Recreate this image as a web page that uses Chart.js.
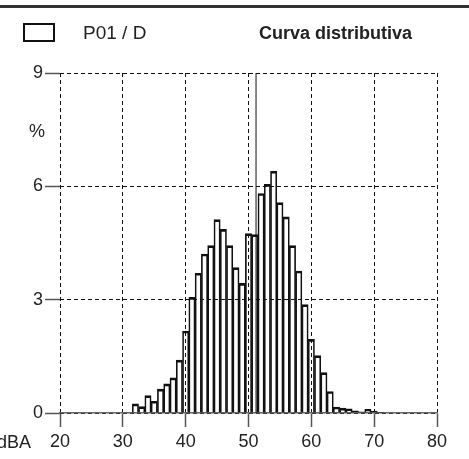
<!DOCTYPE html>
<html>
<head>
<meta charset="utf-8">
<script src="https://cdn.jsdelivr.net/npm/chart.js@4.4.0/dist/chart.umd.min.js"></script>
<style>
html,body{margin:0;padding:0;background:#fff;}
#wrap{width:469px;height:459px;position:relative;}
</style>
</head>
<body>
<div id="wrap"><canvas id="c" width="469" height="459"></canvas></div>
<script>
// Data (dBA bins, percent)
const levels = [32,33,34,35,36,37,38,39,40,41,42,43,44,45,46,47,48,49,50,51,52,53,54,55,56,57,58,59,60,61,62,63,64,65,66,67,68,69,70,71];
const percents = [0.24,0.17,0.46,0.31,0.63,0.77,0.93,1.40,2.17,3.06,3.70,4.21,4.43,5.12,4.86,4.43,3.85,3.43,4.75,4.72,5.81,6.05,6.40,5.57,5.19,4.43,3.76,2.87,1.95,1.52,1.07,0.57,0.16,0.13,0.11,0.06,0.03,0.10,0.05,0.02];
const markerLevel = 51.2;
const xTicks = [20,30,40,50,60,70,80];
const yTicks = [0,3,6,9];
const seriesName = 'P01 / D';
const chartTitle = 'Curva distributiva';
const xUnit = 'dBA';
const yUnit = '%';

const FONT = "'Liberation Sans', Arial, sans-serif";

const decor = {
  id: 'decor',
  afterDraw(chart) {
    const ctx = chart.ctx;
    ctx.save();
    // top rule
    ctx.fillStyle = '#333';
    ctx.fillRect(0, 5, 469, 3);
    // legend box
    ctx.strokeStyle = '#111';
    ctx.lineWidth = 2;
    ctx.strokeRect(24, 24, 30, 17);
    ctx.fillStyle = '#222';
    ctx.textBaseline = 'alphabetic';
    ctx.font = '19px ' + FONT;
    ctx.textAlign = 'left';
    ctx.fillText(seriesName, 83, 39);
    ctx.font = 'bold 18px ' + FONT;
    ctx.fillText(chartTitle, 259, 39);
    // unit labels
    ctx.font = '18px ' + FONT;
    ctx.textAlign = 'right';
    ctx.fillText(xUnit, 31, 448);
    ctx.textAlign = 'center';
    ctx.fillText(yUnit, 37, 137);
    ctx.restore();
  }
};

new Chart(document.getElementById('c'), {
  data: {
    datasets: [
      {
        type: 'bar',
        data: levels.map((x, i) => ({x: x, y: percents[i]})),
        backgroundColor: 'rgba(0,0,0,0)',
        borderColor: '#111',
        borderWidth: {top: 2, left: 1, right: 1, bottom: 0},
        borderSkipped: false,
        barPercentage: 1,
        categoryPercentage: 1,
        order: 2
      },
      {
        type: 'line',
        data: [{x: markerLevel, y: yTicks[0]}, {x: markerLevel, y: yTicks[yTicks.length-1]}],
        borderColor: '#111',
        borderWidth: 1,
        pointRadius: 0,
        order: 1
      }
    ]
  },
  options: {
    responsive: false,
    animation: false,
    devicePixelRatio: 1,
    layout: {padding: {top: 73, right: 32, left: 0, bottom: 0}},
    plugins: {legend: {display: false}, tooltip: {enabled: false}},
    scales: {
      x: {
        type: 'linear',
        min: xTicks[0], max: xTicks[xTicks.length-1],
        afterBuildTicks: s => { s.ticks = xTicks.map(v => ({value: v})); },
        afterFit: s => { s.height = 46; },
        offset: false,
        grid: {offset: false, color: '#111', lineWidth: 1, tickColor: '#555', tickLength: 14, tickWidth: 1.5, drawTicks: true},
        border: {display: true, color: '#666', width: 1.5, dash: [4, 3]},
        ticks: {color: '#222', font: {family: FONT, size: 18}, padding: 4, maxRotation: 0, autoSkip: false}
      },
      y: {
        min: yTicks[0], max: yTicks[yTicks.length-1],
        afterBuildTicks: s => { s.ticks = yTicks.map(v => ({value: v})); },
        afterFit: s => { s.width = 60; },
        grid: {color: '#111', lineWidth: 1, tickColor: '#555', tickLength: 15, tickWidth: 1.5},
        border: {display: false, dash: [4, 3]},
        ticks: {color: '#222', font: {family: FONT, size: 18}, padding: 2}
      }
    }
  },
  plugins: [decor]
});
</script>
</body>
</html>
